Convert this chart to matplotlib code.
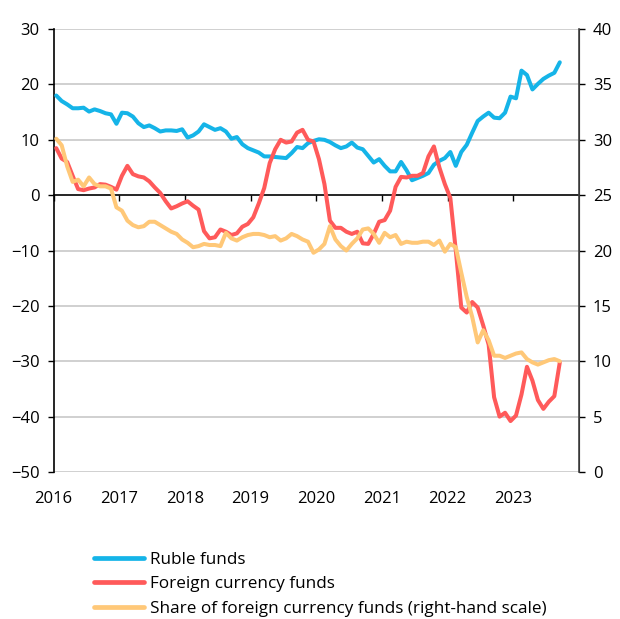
import numpy as np
import pandas as pd
import matplotlib
matplotlib.use("Agg")
import matplotlib.pyplot as plt

plt.rcParams['font.family'] = ['Open Sans', 'DejaVu Sans']

# monthly series, Jan 2016 - Sep 2023 (% YoY for funds, % for share)
start_month = "2016-01"
ruble_funds = [
    18.0, 17.0, 16.4, 15.7, 15.7, 15.8, 15.1, 15.5, 15.2, 14.8, 14.6, 12.9,
    14.9, 14.8, 14.2, 13.0, 12.3, 12.6, 12.1, 11.5, 11.7, 11.7, 11.6, 11.9,
    10.4, 10.8, 11.5, 12.8, 12.3, 11.8, 12.1, 11.5, 10.2, 10.5, 9.2, 8.5,
    8.1, 7.7, 7.0, 7.0, 6.9, 6.8, 6.7, 7.6, 8.7, 8.5, 9.4, 9.8,
    10.1, 10.0, 9.6, 9.0, 8.5, 8.8, 9.5, 8.6, 8.3, 7.1, 5.9, 6.5,
    5.3, 4.3, 4.3, 6.0, 4.5, 2.7, 3.1, 3.5, 4.0, 5.5, 6.2, 6.7,
    7.8, 5.3, 7.8, 9.1, 11.3, 13.4, 14.2, 14.9, 14.0, 13.9, 14.9, 17.8,
    17.5, 22.5, 21.7, 19.1, 20.1, 21.0, 21.6, 22.1, 24.0,
]
fx_funds = [
    8.5, 6.6, 6.0, 3.5, 1.1, 0.9, 1.2, 1.4, 2.0, 1.9, 1.5, 1.0,
    3.5, 5.3, 3.8, 3.4, 3.2, 2.5, 1.4, 0.4, -1.1, -2.4, -2.0, -1.5,
    -1.1, -1.9, -2.6, -6.5, -7.8, -7.6, -6.2, -6.6, -7.2, -6.9, -5.7, -5.2,
    -4.0, -1.5, 1.3, 5.8, 8.3, 10.0, 9.5, 9.7, 11.3, 11.8, 10.0, 9.7,
    6.5, 2.0, -4.6, -5.9, -5.9, -6.6, -7.0, -6.6, -8.7, -8.8, -7.0, -4.8,
    -4.5, -2.8, 1.5, 3.3, 3.2, 3.5, 3.5, 4.0, 7.0, 8.8, 5.0, 2.0,
    -0.5, -10.0, -20.3, -21.2, -19.3, -20.3, -23.5, -27.0, -36.5, -40.0, -39.3, -40.8,
    -39.8, -36.0, -31.0, -33.5, -37.0, -38.6, -37.3, -36.3, -30.2,
]
fx_share = [
    30.1, 29.5, 27.6, 26.2, 26.4, 25.8, 26.6, 26.0, 25.8, 25.8, 25.6, 23.9,
    23.6, 22.7, 22.3, 22.1, 22.2, 22.6, 22.6, 22.3, 22.0, 21.7, 21.5, 21.0,
    20.7, 20.3, 20.4, 20.6, 20.5, 20.5, 20.4, 21.6, 21.1, 20.9, 21.2, 21.4,
    21.5, 21.5, 21.4, 21.2, 21.3, 20.9, 21.1, 21.5, 21.3, 21.0, 20.8, 19.8,
    20.1, 20.6, 22.2, 21.0, 20.4, 20.0, 20.6, 21.1, 21.9, 22.0, 21.5, 20.7,
    21.6, 21.2, 21.4, 20.6, 20.8, 20.7, 20.7, 20.8, 20.8, 20.5, 20.9, 19.9,
    20.6, 20.3, 18.0, 15.8, 14.0, 11.7, 12.8, 11.9, 10.5, 10.5, 10.3, 10.5,
    10.7, 10.8, 10.2, 9.9, 9.7, 9.9, 10.1, 10.2, 10.0,
]
years = list(range(2016, 2024))
labels = ["Ruble funds", "Foreign currency funds",
          "Share of foreign currency funds (right-hand scale)"]

BLUE = "#15b4e8"
RED = "#ff5a5a"
ORANGE = "#ffc878"
GRID = "#c8c8c8"

# mid-month positions as decimal years
months = pd.date_range(start_month, periods=len(ruble_funds), freq="MS")
x = months.year + (months.month - 0.5) / 12.0

fig = plt.figure(figsize=(6.2, 6.19), dpi=100)
ax = fig.add_axes([0.0863, 0.2375, 0.8475, 0.7155])
ax2 = ax.twinx()

ax.set_xlim(2016, 2024)
ax.set_ylim(-50, 30)
ax2.set_ylim(0, 40)

for v in range(-50, 31, 10):
    if v != 0:
        ax.axhline(v, color=GRID, lw=1.2, zorder=0)

l1, = ax.plot(x, ruble_funds, color=BLUE, lw=2.9, solid_capstyle="round", zorder=3)
l2, = ax.plot(x, fx_funds, color=RED, lw=2.9, solid_capstyle="round", zorder=4)
l3, = ax2.plot(x, fx_share, color=ORANGE, lw=2.9, solid_capstyle="round", zorder=3)

# x axis runs through zero with the year ticks hanging below it
ax.spines["bottom"].set_position(("data", 0))
ax.spines["bottom"].set_color("black")
ax.spines["bottom"].set_linewidth(1.2)
ax.spines["bottom"].set_zorder(2)
ax.set_xticks(years)
ax.tick_params(axis="x", direction="out", length=4, width=1.0, labelbottom=False)
for yr in years:
    ax.text(yr, -0.062, str(yr), transform=ax.get_xaxis_transform(),
            ha="center", va="center", fontsize=12)

ax.spines["top"].set_visible(False)
ax2.spines["top"].set_visible(False)
ax2.spines["bottom"].set_visible(False)
ax.spines["left"].set_linewidth(1.2)
ax2.spines["right"].set_linewidth(1.2)
ax2.spines["right"].set_color("#444444")
ax2.spines["left"].set_visible(False)

ax.set_yticks(range(-50, 31, 10))
ax.tick_params(axis="y", direction="out", length=4, width=1.0, labelsize=12, pad=6)
ax2.set_yticks(range(0, 41, 5))
ax2.tick_params(axis="y", direction="out", length=4, width=1.0, labelsize=12, pad=6)

fig.legend([l1, l2, l3], labels, loc="upper left", bbox_to_anchor=(0.14, 0.12),
           frameon=False, fontsize=12.3, handlelength=2.95, handletextpad=0.35,
           labelspacing=0.5, borderaxespad=0)
for h in fig.legends[0].legend_handles:
    h.set_linewidth(3.4)
    h.set_solid_capstyle("round")

fig.savefig("out.png", dpi=100)
